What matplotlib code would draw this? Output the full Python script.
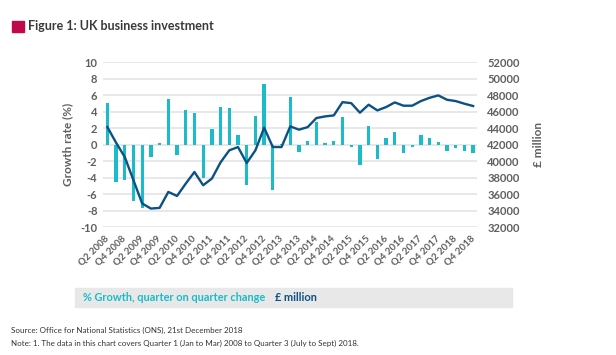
import matplotlib
matplotlib.use("Agg")
import matplotlib.pyplot as plt
from matplotlib.patches import Rectangle
import numpy as np

plt.rcParams['font.family'] = ['Lato', 'DejaVu Sans']

# ---- data ----
growth = [5.0, -4.5, -4.25, -6.85, -7.75, -1.55, 0.18, 5.5, -1.3, 4.2, 3.9, -4.05, 1.85, 4.6,
          4.45, 1.22, -4.95, 3.45, 7.4, -5.55, 0.12, 5.8, -0.85, 0.45, 2.7, 0.16, 0.45, 3.3,
          -0.25, -2.45, 2.25, -1.75, 0.78, 1.5, -1.0, -0.25, 1.2, 0.78, 0.32, -0.72, -0.4,
          -0.72, -1.0]
investment = [44140, 42240, 40500, 37670, 34850, 34240, 34320, 36260, 35770, 37270, 38680,
              37070, 37880, 39850, 41310, 41710, 39770, 41310, 44060, 41710, 41710, 44220,
              43820, 44130, 45230, 45430, 45550, 47160, 47040, 45880, 46850, 46160, 46560,
              47130, 46730, 46730, 47290, 47690, 47980, 47450, 47290, 46970, 46690]
tick_labels = ["Q2 2008", "Q4 2008", "Q2 2009", "Q4 2009", "Q2 2010", "Q4 2010", "Q2 2011",
               "Q4 2011", "Q2 2012", "Q4 2012", "Q2 2013", "Q4 2013", "Q2 2014", "Q4 2014",
               "Q2 2015", "Q4 2015", "Q2 2016", "Q4 2016", "Q2 2017", "Q4 2017", "Q2 2018",
               "Q4 2018"]
left_ticks = [10, 8, 6, 4, 2, 0, -2, -4, -6, -8, -10]
right_ticks = [52000, 50000, 48000, 46000, 44000, 42000, 40000, 38000, 36000, 34000, 32000]

TEAL = "#19bcc8"
NAVY = "#0d5083"
GRAY = "#5f5f5f"

W, H = 616, 355
fig = plt.figure(figsize=(W / 100, H / 100), dpi=100)
fig.patch.set_facecolor("white")

ax = fig.add_axes([103 / W, 1 - 227 / H, 374.5 / W, (227 - 62.3) / H])
x = np.arange(len(growth))
ax.set_axisbelow(True)
ax.bar(x, growth, width=0.38, color=TEAL, zorder=2)
ax.set_xlim(-0.5, len(growth) - 0.5)
ax.set_ylim(-10, 10)
ax.set_yticks(left_ticks)
ax.set_yticklabels([str(t) for t in left_ticks])
ax.yaxis.grid(True, color="#e6e6e6", linewidth=1.3)
ax.xaxis.grid(False)
for s in ax.spines.values():
    s.set_visible(False)
ax.tick_params(axis="y", length=0, pad=4, labelsize=8, labelcolor=GRAY)
ax.set_xticks(x[::2])
ax.set_xticklabels(tick_labels, rotation=45, ha="right", va="center",
                   rotation_mode="anchor", fontsize=7, color=GRAY, fontweight="bold")
ax.tick_params(axis="x", length=0, pad=7)
for lab in ax.get_yticklabels():
    lab.set_fontweight("bold")
ax.set_ylabel("Growth rate (%)", fontsize=8.5, color=GRAY, fontweight="bold")
ax.yaxis.set_label_coords(-0.080, 0.5)

ax2 = ax.twinx()
ax2.plot(x, investment, color=NAVY, linewidth=1.7, zorder=3)
ax2.set_ylim(32000, 52000)
ax2.set_yticks(right_ticks)
ax2.set_yticklabels([str(t) for t in right_ticks])
for s in ax2.spines.values():
    s.set_visible(False)
ax2.tick_params(axis="y", length=0, pad=7, labelsize=8, labelcolor=GRAY)
for lab in ax2.get_yticklabels():
    lab.set_fontweight("bold")
ax2.set_ylabel("£ million", fontsize=8.5, color=GRAY, fontweight="bold", rotation=90)
ax2.yaxis.set_label_coords(1.148, 0.5)

# title
fig.patches.append(Rectangle((12.3 / W, 1 - 32.3 / H), 12 / W, 11.3 / H,
                             transform=fig.transFigure, color="#c0094a"))
fig.text(28 / W, 1 - 26.5 / H, "Figure 1: UK business investment", fontsize=9.0,
         fontweight="bold", color="#3a3a3a", va="center", ha="left")

# legend box
fig.patches.append(Rectangle((75 / W, 1 - 307 / H), 437 / W, 19 / H,
                             transform=fig.transFigure, color="#e8e8e8"))
fig.text(83 / W, 1 - 297.5 / H, "% Growth, quarter on quarter change", fontsize=7.95,
         fontweight="bold", color=TEAL, va="center", ha="left")
fig.text(275 / W, 1 - 297.5 / H, "£ million", fontsize=7.95,
         fontweight="bold", color=NAVY, va="center", ha="left")

# source
fig.text(11 / W, 1 - 330 / H, "Source: Office for National Statistics (ONS), 21st December 2018",
         fontsize=5.75, color="#333333", va="center", ha="left")
fig.text(11 / W, 1 - 343 / H,
         "Note: 1. The data in this chart covers Quarter 1 (Jan to Mar) 2008 to Quarter 3 (July to Sept) 2018.",
         fontsize=5.75, color="#333333", va="center", ha="left")

fig.savefig("out.png", dpi=100)
